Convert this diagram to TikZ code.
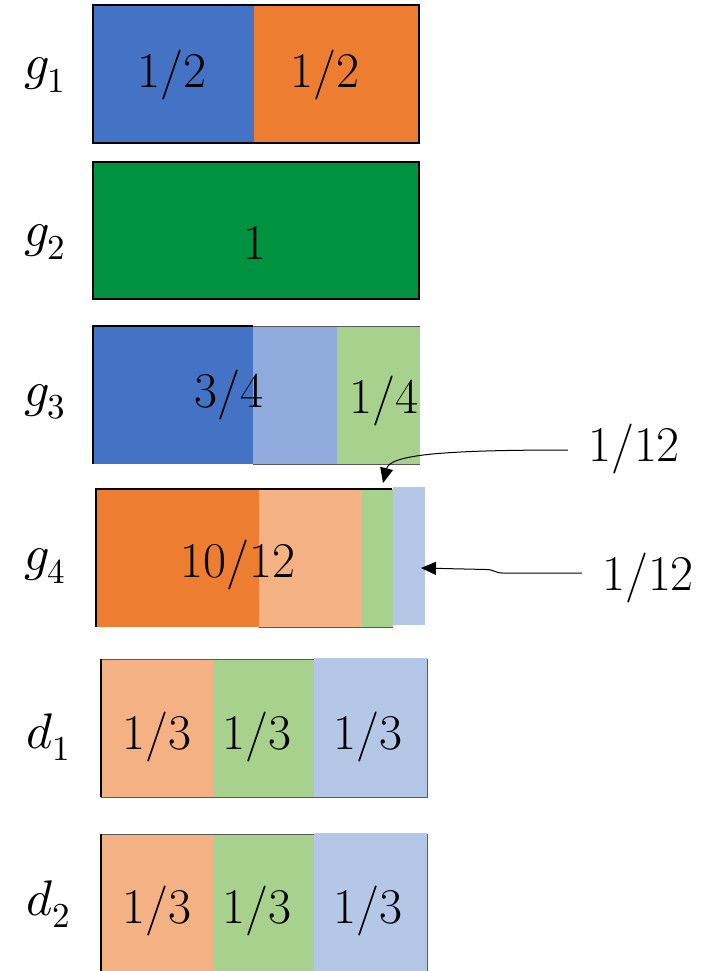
\documentclass[tikz,border=0pt]{standalone}
\usepackage{unicode-math}
\usetikzlibrary{arrows.meta}
\definecolor{cblue}{HTML}{4472C4}
\definecolor{corange}{HTML}{ED7D31}
\definecolor{cgreen}{HTML}{00923F}
\definecolor{clblue}{HTML}{8FAADC}
\definecolor{clgreen}{HTML}{A9D18E}
\definecolor{clorange}{HTML}{F4B183}
\definecolor{cpblue}{HTML}{B4C7E7}
\definecolor{edgegray}{HTML}{5A5A5A}
\begin{document}
\begin{tikzpicture}[x=1pt,y=-1pt,
  lbl/.style={font=\fontsize{50}{54}\selectfont, inner sep=0pt},
  blackedge/.style={draw=black, line width=1.3pt},
  grayedge/.style={draw=edgegray, line width=1pt},
  pointer/.style={draw=black, line width=1pt, -{Triangle[length=15pt,width=13pt]}}]
\useasboundingbox (0,0) rectangle (719,971);
% ---- g1 ----
\fill[cblue] (93,5) rectangle (254,143);
\fill[corange] (254,5) rectangle (419,143);
\draw[blackedge] (93,5) rectangle (419,143);
\node[lbl] (g1a) at (172,75) {1/2};
\node[lbl] (g1b) at (325,75) {1/2};
\node[lbl] (g1) at (45,75) {$g_1$};
% ---- g2 ----
\fill[cgreen] (93,162) rectangle (419,299);
\draw[blackedge] (93,162) rectangle (419,299);
\node[lbl] (g2a) at (255,243) {1};
\node[lbl] (g2) at (45,242) {$g_2$};
% ---- g3 ----
\fill[cblue] (93,326) rectangle (253,464);
\fill[clblue] (253,326) rectangle (337,464);
\fill[clgreen] (337,326) rectangle (420,464);
\draw[grayedge] (253,326) -- (420,326);
\draw[grayedge] (253,464) -- (420,464);
\draw[blackedge] (93,464) -- (93,326) -- (253,326);
\node[lbl] (g3a) at (229,395) {3/4};
\node[lbl] (g3b) at (384,401) {1/4};
\node[lbl] (g3) at (45,402) {$g_3$};
% ---- g4 ----
\fill[corange] (96,489) rectangle (259,627);
\fill[clorange] (259,489) rectangle (362,627);
\fill[clgreen] (362,489) rectangle (393,627);
\fill[cpblue] (393,487) rectangle (425,625);
\draw[grayedge] (259,627) -- (393,627);
\draw[blackedge] (96,627) -- (96,489) -- (392,489);
\node[lbl] (g4a) at (238,565) {10/12};
\node[lbl] (g4) at (45,566) {$g_4$};
\coordinate (tipgreen) at (383,483);
\coordinate (tipblue) at (421,568);
\node[lbl] (n12a) at (634,449) {1/12};
\node[lbl] (n12b) at (648,578) {1/12};
\draw[pointer] (n12a.west) ++(-20,1) .. controls (440,450) and (390,455) .. (tipgreen);
\draw[pointer] (n12b.west) ++(-20,-5) -- (502,573) .. controls (494,572.5) and (494,569.5) .. (486,569.5) -- (tipblue);
% ---- d1 ----
\fill[clorange] (101,659) rectangle (213,797);
\fill[clgreen] (213,659) rectangle (314,797);
\fill[cpblue] (314,658) rectangle (427,797);
\draw[grayedge] (101,659) -- (314,659);
\draw[grayedge] (101,797) -- (427,797) -- (427,659);
\draw[blackedge] (101,659) -- (101,797);
\node[lbl] (d1a) at (157,737) {1/3};
\node[lbl] (d1b) at (257,737) {1/3};
\node[lbl] (d1c) at (368,737) {1/3};
\node[lbl] (d1) at (48,737) {$d_1$};
% ---- d2 ----
\fill[clorange] (101,834) rectangle (213,971);
\fill[clgreen] (213,834) rectangle (314,971);
\fill[cpblue] (314,833) rectangle (427,971);
\draw[grayedge] (101,834) -- (314,834);
\draw[grayedge] (427,834) -- (427,971);
\draw[blackedge] (101,834) -- (101,971);
\node[lbl] (d2a) at (157,911) {1/3};
\node[lbl] (d2b) at (257,911) {1/3};
\node[lbl] (d2c) at (368,911) {1/3};
\node[lbl] (d2) at (48,904) {$d_2$};
\end{tikzpicture}
\end{document}
